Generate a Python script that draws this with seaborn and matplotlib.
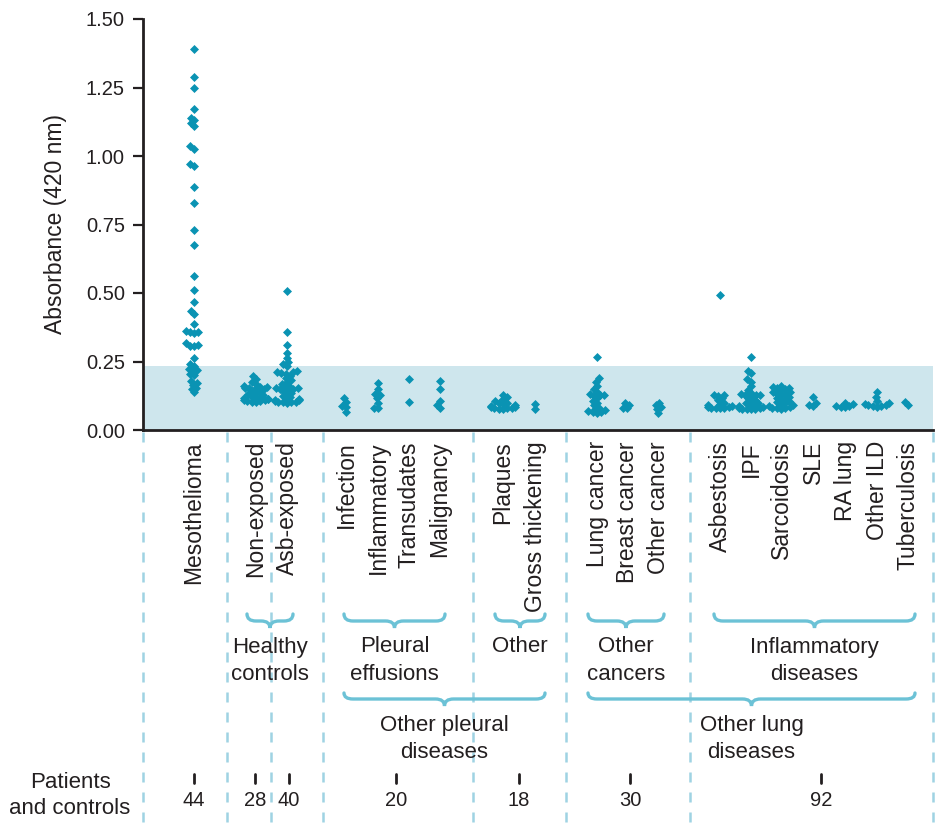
import pandas as pd
import matplotlib
matplotlib.use("Agg")
import matplotlib.pyplot as plt
from matplotlib.path import Path
from matplotlib.patches import PathPatch
import seaborn as sns

# Absorbance readings, one list per diagnosis
mesothelioma = [1.39, 1.29, 1.25, 1.17, 1.14, 1.13, 1.12, 1.11, 1.035, 1.027, 0.97, 0.963,
                0.887, 0.83, 0.73, 0.674, 0.562, 0.511, 0.466, 0.433, 0.423, 0.387, 0.362,
                0.359, 0.356, 0.353, 0.316, 0.310, 0.308, 0.305, 0.261, 0.240, 0.232, 0.222,
                0.220, 0.215, 0.204, 0.200, 0.179, 0.170, 0.165, 0.155, 0.150, 0.137]
non_exposed = [0.197, 0.185, 0.176, 0.168, 0.160, 0.157, 0.156, 0.155, 0.154, 0.152, 0.148,
               0.144, 0.140, 0.136, 0.132, 0.128, 0.125, 0.121, 0.118, 0.115, 0.113, 0.112,
               0.110, 0.108, 0.106, 0.105, 0.104, 0.103]
asb_exposed = [0.507, 0.357, 0.312, 0.281, 0.262, 0.247, 0.240, 0.232, 0.215, 0.212, 0.210,
               0.208, 0.205, 0.198, 0.190, 0.182, 0.175, 0.168, 0.160, 0.155, 0.153, 0.152,
               0.150, 0.148, 0.145, 0.140, 0.135, 0.130, 0.125, 0.120, 0.115, 0.112, 0.110,
               0.108, 0.106, 0.104, 0.103, 0.102, 0.101, 0.100]
infection = [0.116, 0.103, 0.086, 0.085, 0.067]
inflammatory = [0.170, 0.150, 0.130, 0.128, 0.115, 0.100, 0.082, 0.080]
transudates = [0.186, 0.103]
malignancy = [0.180, 0.149, 0.106, 0.090, 0.079]
plaques = [0.128, 0.120, 0.112, 0.105, 0.100, 0.097, 0.094, 0.090, 0.087, 0.085, 0.083,
           0.081, 0.080, 0.079, 0.078, 0.077]
gross_thickening = [0.094, 0.076]
lung_cancer = [0.268, 0.188, 0.175, 0.160, 0.150, 0.140, 0.130, 0.128, 0.127, 0.125, 0.115,
               0.105, 0.098, 0.090, 0.082, 0.076, 0.072, 0.068, 0.066, 0.064, 0.062]
breast_cancer = [0.097, 0.092, 0.080, 0.079]
other_cancer = [0.100, 0.092, 0.085, 0.078, 0.063]
asbestosis = [0.493, 0.128, 0.127, 0.125, 0.115, 0.108, 0.100, 0.095, 0.090, 0.087, 0.085,
              0.083, 0.082, 0.081, 0.080, 0.079]
ipf = [0.268, 0.217, 0.207, 0.185, 0.176, 0.160, 0.146, 0.135, 0.130, 0.128, 0.127, 0.126,
       0.120, 0.115, 0.110, 0.105, 0.100, 0.097, 0.093, 0.090, 0.087, 0.085, 0.082, 0.080,
       0.078, 0.077, 0.076, 0.075]
sarcoidosis = [0.162, 0.158, 0.155, 0.152, 0.148, 0.145, 0.140, 0.137, 0.133, 0.130, 0.126,
               0.122, 0.118, 0.114, 0.110, 0.106, 0.102, 0.098, 0.094, 0.090, 0.086, 0.083,
               0.081, 0.080, 0.079, 0.078]
sle = [0.120, 0.098, 0.092, 0.088]
ra_lung = [0.100, 0.095, 0.088, 0.086, 0.084, 0.083]
other_ild = [0.140, 0.120, 0.105, 0.098, 0.095, 0.092, 0.090, 0.088, 0.086, 0.085]
tuberculosis = [0.104, 0.092]

categories = ["Mesothelioma", "Non-exposed", "Asb-exposed", "Infection", "Inflammatory",
              "Transudates", "Malignancy", "Plaques", "Gross thickening", "Lung cancer",
              "Breast cancer", "Other cancer", "Asbestosis", "IPF", "Sarcoidosis", "SLE",
              "RA lung", "Other ILD", "Tuberculosis"]
series = [mesothelioma, non_exposed, asb_exposed, infection, inflammatory, transudates,
          malignancy, plaques, gross_thickening, lung_cancer, breast_cancer, other_cancer,
          asbestosis, ipf, sarcoidosis, sle, ra_lung, other_ild, tuberculosis]

# column slots (the x axis runs in figure pixels so the annotations line up)
slot_x = [194, 256, 287, 346, 378, 409, 440, 503, 535, 597, 627, 658,
          720, 751, 781, 813, 845, 877, 908]

# groups for the patient count row: (first, last) category index
count_groups = [(0, 0), (1, 1), (2, 2), (3, 6), (7, 8), (9, 11), (12, 18)]
count_x = [194, 255, 289, 396, 519, 630, 821]

# brace annotations: (left px, right px, level, label)
braces = [(247, 293, 1, "Healthy\ncontrols"),
          (344, 445, 1, "Pleural\neffusions"),
          (495, 545, 1, "Other"),
          (588, 664, 1, "Other\ncancers"),
          (714, 915, 1, "Inflammatory\ndiseases"),
          (344, 545, 2, "Other pleural\ndiseases"),
          (588, 915, 2, "Other lung\ndiseases")]
divider_x = [143, 227, 271, 323, 473, 566, 690, 933]

DOT = "#0a93b3"
BAND = "#cee6ed"
BRACE = "#6cc2d6"
DASH = "#9fd3e3"
INK = "#231f20"

rows = []
for name, pos, vals in zip(categories, slot_x, series):
    for v in vals:
        rows.append({"category": name, "pos": pos, "value": v})
df = pd.DataFrame(rows)

sns.set_style("ticks")
plt.rcParams["font.family"] = ["Liberation Sans", "DejaVu Sans"]
plt.rcParams["text.color"] = INK

W, H = 938, 827
fig = plt.figure(figsize=(W / 100, H / 100), dpi=100)
ax = fig.add_axes([143 / W, 1 - 430 / H, 790 / W, 411 / H])

ax.axhspan(0, 0.235, color=BAND, zorder=0, lw=0)
# swarm laid out with small markers, then drawn larger so neighbours overlap
# the way the original dot plot does
sns.swarmplot(data=df, x="pos", y="value", native_scale=True, orient="x", marker="D",
              color=DOT, size=3.0, linewidth=0, warn_thresh=1, ax=ax, zorder=3)
ax.set_xlim(143, 933)
ax.set_ylim(0, 1.5)
fig.canvas.draw()
for coll in ax.collections:
    if "draw" in coll.__dict__:
        del coll.draw  # freeze the swarm positions seaborn just computed
    coll.set_sizes([21])

ax.set_yticks([0, 0.25, 0.5, 0.75, 1.0, 1.25, 1.5])
ax.set_yticklabels([f"{t:.2f}" for t in ax.get_yticks()], fontsize=14.5, color=INK)
ax.set_xticks(slot_x)
ax.set_xticklabels(categories, rotation=90, va="top", ha="center", fontsize=16.5, color=INK)
ax.tick_params(axis="x", length=0, pad=8)
ax.tick_params(axis="y", length=7, width=1.6, pad=6, color=INK)
ax.set_xlabel("")
ax.set_ylabel("Absorbance (420 nm)", fontsize=16.5, labelpad=14, color=INK)
sns.despine(ax=ax)
for side in ["left", "bottom"]:
    ax.spines[side].set_linewidth(2)
    ax.spines[side].set_color(INK)

# overlay in figure pixels for dividers, braces and counts
ov = fig.add_axes([0, 0, 1, 1])
ov.set_xlim(0, W)
ov.set_ylim(H, 0)
ov.axis("off")

for x in divider_x:
    ov.plot([x, x], [432, H], color=DASH, lw=1.8, ls=(0, (4, 4)), zorder=1)


def draw_brace(x0, x1, y_end, y_bar, y_tip):
    xm = (x0 + x1) / 2
    d = min(9, (x1 - x0) / 5)
    verts = [(x0, y_end), (x0, y_bar), (x0 + d, y_bar),
             (xm - d, y_bar),
             (xm, y_bar), (xm, y_tip),
             (xm, y_bar), (xm + d, y_bar),
             (x1 - d, y_bar),
             (x1, y_bar), (x1, y_end)]
    codes = [Path.MOVETO, Path.CURVE3, Path.CURVE3,
             Path.LINETO,
             Path.CURVE3, Path.CURVE3,
             Path.CURVE3, Path.CURVE3,
             Path.LINETO,
             Path.CURVE3, Path.CURVE3]
    ov.add_patch(PathPatch(Path(verts, codes), fc="none", ec=BRACE, lw=2.4,
                           capstyle="round", zorder=2))
    return xm


for x0, x1, level, label in braces:
    if level == 1:
        xm = draw_brace(x0, x1, 614, 621, 628)
        ty = 647
    else:
        xm = draw_brace(x0, x1, 693, 699, 706)
        ty = 726
    lines = label.split("\n")
    for i, line in enumerate(lines):
        ov.text(xm, ty + 27 * i, line, ha="center", va="center", fontsize=16, zorder=3)

ov.text(70, 783, "Patients", ha="center", va="center", fontsize=16)
ov.text(70, 808, "and controls", ha="center", va="center", fontsize=16)
for (a, b), x in zip(count_groups, count_x):
    n = sum(len(series[i]) for i in range(a, b + 1))
    ov.plot([x, x], [774, 783], color=INK, lw=2, zorder=3)
    ov.text(x, 801, str(n), ha="center", va="center", fontsize=14.5, zorder=3)

fig.savefig("out.png", dpi=100)
